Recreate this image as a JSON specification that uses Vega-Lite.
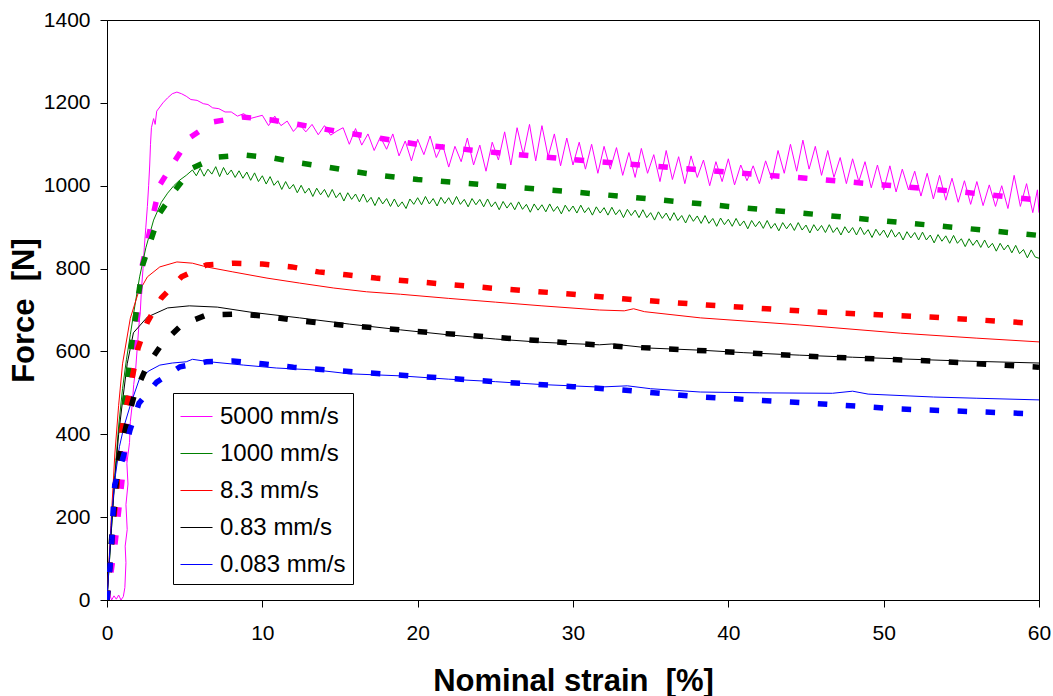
{
  "$schema": "https://vega.github.io/schema/vega-lite/v6.json",
  "width": 932,
  "height": 580,
  "autosize": {"type": "none"},
  "padding": {"left": 107, "top": 20, "right": 14, "bottom": 96},
  "background": "#ffffff",
  "config": {
    "font": "Liberation Sans",
    "view": {"stroke": "#000000", "strokeWidth": 1},
    "legend": {
      "orient": "none",
      "legendX": 66,
      "legendY": 373,
      "padding": 7,
      "strokeColor": "#000000",
      "fillColor": "#ffffff",
      "cornerRadius": 0,
      "symbolType": "stroke",
      "symbolSize": 1024,
      "symbolStrokeWidth": 1,
      "labelFont": "Liberation Sans",
      "labelFontSize": 24,
      "labelColor": "#000000",
      "labelOffset": 7,
      "rowPadding": 8,
      "titlePadding": 0
    }
  },
  "datasets": {
    "exp": [
      {"s": "5000 mm/s", "x": 0, "y": 0},
      {"s": "5000 mm/s", "x": 0.15, "y": 15},
      {"s": "5000 mm/s", "x": 0.3, "y": 0},
      {"s": "5000 mm/s", "x": 0.45, "y": 10},
      {"s": "5000 mm/s", "x": 0.6, "y": 2},
      {"s": "5000 mm/s", "x": 0.75, "y": 12},
      {"s": "5000 mm/s", "x": 0.9, "y": 0},
      {"s": "5000 mm/s", "x": 1.05, "y": 8},
      {"s": "5000 mm/s", "x": 1.15, "y": 30},
      {"s": "5000 mm/s", "x": 1.22, "y": 90},
      {"s": "5000 mm/s", "x": 1.17, "y": 130},
      {"s": "5000 mm/s", "x": 1.3, "y": 170},
      {"s": "5000 mm/s", "x": 1.22, "y": 230},
      {"s": "5000 mm/s", "x": 1.35, "y": 280},
      {"s": "5000 mm/s", "x": 1.28, "y": 330},
      {"s": "5000 mm/s", "x": 1.45, "y": 380},
      {"s": "5000 mm/s", "x": 1.5, "y": 430},
      {"s": "5000 mm/s", "x": 1.62, "y": 470},
      {"s": "5000 mm/s", "x": 1.72, "y": 520},
      {"s": "5000 mm/s", "x": 1.85, "y": 560},
      {"s": "5000 mm/s", "x": 1.95, "y": 610},
      {"s": "5000 mm/s", "x": 2.05, "y": 660},
      {"s": "5000 mm/s", "x": 2.15, "y": 700},
      {"s": "5000 mm/s", "x": 2.22, "y": 750},
      {"s": "5000 mm/s", "x": 2.32, "y": 800},
      {"s": "5000 mm/s", "x": 2.4, "y": 850},
      {"s": "5000 mm/s", "x": 2.5, "y": 900},
      {"s": "5000 mm/s", "x": 2.6, "y": 950},
      {"s": "5000 mm/s", "x": 2.68, "y": 1000},
      {"s": "5000 mm/s", "x": 2.75, "y": 1050},
      {"s": "5000 mm/s", "x": 2.8, "y": 1100},
      {"s": "5000 mm/s", "x": 2.86, "y": 1140},
      {"s": "5000 mm/s", "x": 3.0, "y": 1162},
      {"s": "5000 mm/s", "x": 3.1, "y": 1148},
      {"s": "5000 mm/s", "x": 3.2, "y": 1180},
      {"s": "5000 mm/s", "x": 3.4, "y": 1190},
      {"s": "5000 mm/s", "x": 3.6, "y": 1200},
      {"s": "5000 mm/s", "x": 3.9, "y": 1212},
      {"s": "5000 mm/s", "x": 4.2, "y": 1222},
      {"s": "5000 mm/s", "x": 4.5, "y": 1226},
      {"s": "5000 mm/s", "x": 4.8, "y": 1222},
      {"s": "5000 mm/s", "x": 5.1, "y": 1216},
      {"s": "5000 mm/s", "x": 5.4, "y": 1208},
      {"s": "5000 mm/s", "x": 5.8, "y": 1206},
      {"s": "5000 mm/s", "x": 6.2, "y": 1198},
      {"s": "5000 mm/s", "x": 6.5, "y": 1196},
      {"s": "5000 mm/s", "x": 6.8, "y": 1188},
      {"s": "5000 mm/s", "x": 7.2, "y": 1186},
      {"s": "5000 mm/s", "x": 7.6, "y": 1178},
      {"s": "5000 mm/s", "x": 8.0, "y": 1178},
      {"s": "5000 mm/s", "x": 8.4, "y": 1168},
      {"s": "5000 mm/s", "x": 8.8, "y": 1174},
      {"s": "5000 mm/s", "x": 9.2, "y": 1162},
      {"s": "5000 mm/s", "x": 9.6, "y": 1166},
      {"s": "5000 mm/s", "x": 10.0, "y": 1170},
      {"s": "5000 mm/s", "x": 10.4, "y": 1145},
      {"s": "5000 mm/s", "x": 10.8, "y": 1168},
      {"s": "5000 mm/s", "x": 11.2, "y": 1145},
      {"s": "5000 mm/s", "x": 11.6, "y": 1156},
      {"s": "5000 mm/s", "x": 12.0, "y": 1131},
      {"s": "5000 mm/s", "x": 12.4, "y": 1148},
      {"s": "5000 mm/s", "x": 12.8, "y": 1130},
      {"s": "5000 mm/s", "x": 13.2, "y": 1148},
      {"s": "5000 mm/s", "x": 13.6, "y": 1123},
      {"s": "5000 mm/s", "x": 14.0, "y": 1145},
      {"s": "5000 mm/s", "x": 14.4, "y": 1122},
      {"s": "5000 mm/s", "x": 14.8, "y": 1132},
      {"s": "5000 mm/s", "x": 15.2, "y": 1140},
      {"s": "5000 mm/s", "x": 15.6, "y": 1100},
      {"s": "5000 mm/s", "x": 16.0, "y": 1138},
      {"s": "5000 mm/s", "x": 16.4, "y": 1098},
      {"s": "5000 mm/s", "x": 16.8, "y": 1125},
      {"s": "5000 mm/s", "x": 17.2, "y": 1085},
      {"s": "5000 mm/s", "x": 17.6, "y": 1118},
      {"s": "5000 mm/s", "x": 18.0, "y": 1088},
      {"s": "5000 mm/s", "x": 18.4, "y": 1125},
      {"s": "5000 mm/s", "x": 18.8, "y": 1072},
      {"s": "5000 mm/s", "x": 19.2, "y": 1108},
      {"s": "5000 mm/s", "x": 19.6, "y": 1060},
      {"s": "5000 mm/s", "x": 20.0, "y": 1112},
      {"s": "5000 mm/s", "x": 20.4, "y": 1075},
      {"s": "5000 mm/s", "x": 20.8, "y": 1120},
      {"s": "5000 mm/s", "x": 21.2, "y": 1068},
      {"s": "5000 mm/s", "x": 21.6, "y": 1100},
      {"s": "5000 mm/s", "x": 22.0, "y": 1045},
      {"s": "5000 mm/s", "x": 22.4, "y": 1095},
      {"s": "5000 mm/s", "x": 22.8, "y": 1058},
      {"s": "5000 mm/s", "x": 23.2, "y": 1115},
      {"s": "5000 mm/s", "x": 23.6, "y": 1050},
      {"s": "5000 mm/s", "x": 24.0, "y": 1098},
      {"s": "5000 mm/s", "x": 24.4, "y": 1035},
      {"s": "5000 mm/s", "x": 24.8, "y": 1105},
      {"s": "5000 mm/s", "x": 25.2, "y": 1062},
      {"s": "5000 mm/s", "x": 25.6, "y": 1130},
      {"s": "5000 mm/s", "x": 26.0, "y": 1050},
      {"s": "5000 mm/s", "x": 26.4, "y": 1140},
      {"s": "5000 mm/s", "x": 26.8, "y": 1075},
      {"s": "5000 mm/s", "x": 27.2, "y": 1148},
      {"s": "5000 mm/s", "x": 27.6, "y": 1060},
      {"s": "5000 mm/s", "x": 28.0, "y": 1145},
      {"s": "5000 mm/s", "x": 28.4, "y": 1070},
      {"s": "5000 mm/s", "x": 28.8, "y": 1125},
      {"s": "5000 mm/s", "x": 29.2, "y": 1048},
      {"s": "5000 mm/s", "x": 29.6, "y": 1115},
      {"s": "5000 mm/s", "x": 30.0, "y": 1050},
      {"s": "5000 mm/s", "x": 30.4, "y": 1105},
      {"s": "5000 mm/s", "x": 30.8, "y": 1040},
      {"s": "5000 mm/s", "x": 31.2, "y": 1100},
      {"s": "5000 mm/s", "x": 31.6, "y": 1030},
      {"s": "5000 mm/s", "x": 32.0, "y": 1095},
      {"s": "5000 mm/s", "x": 32.4, "y": 1040},
      {"s": "5000 mm/s", "x": 32.8, "y": 1092},
      {"s": "5000 mm/s", "x": 33.2, "y": 1025},
      {"s": "5000 mm/s", "x": 33.6, "y": 1080},
      {"s": "5000 mm/s", "x": 34.0, "y": 1020},
      {"s": "5000 mm/s", "x": 34.4, "y": 1090},
      {"s": "5000 mm/s", "x": 34.8, "y": 1030},
      {"s": "5000 mm/s", "x": 35.2, "y": 1075},
      {"s": "5000 mm/s", "x": 35.6, "y": 1010},
      {"s": "5000 mm/s", "x": 36.0, "y": 1085},
      {"s": "5000 mm/s", "x": 36.4, "y": 1015},
      {"s": "5000 mm/s", "x": 36.8, "y": 1070},
      {"s": "5000 mm/s", "x": 37.2, "y": 1005},
      {"s": "5000 mm/s", "x": 37.6, "y": 1072},
      {"s": "5000 mm/s", "x": 38.0, "y": 1020},
      {"s": "5000 mm/s", "x": 38.4, "y": 1062},
      {"s": "5000 mm/s", "x": 38.8, "y": 1000},
      {"s": "5000 mm/s", "x": 39.2, "y": 1058},
      {"s": "5000 mm/s", "x": 39.6, "y": 1010},
      {"s": "5000 mm/s", "x": 40.0, "y": 1065},
      {"s": "5000 mm/s", "x": 40.4, "y": 1002},
      {"s": "5000 mm/s", "x": 40.8, "y": 1050},
      {"s": "5000 mm/s", "x": 41.2, "y": 1012},
      {"s": "5000 mm/s", "x": 41.6, "y": 1048},
      {"s": "5000 mm/s", "x": 42.0, "y": 1005},
      {"s": "5000 mm/s", "x": 42.4, "y": 1060},
      {"s": "5000 mm/s", "x": 42.8, "y": 1015},
      {"s": "5000 mm/s", "x": 43.2, "y": 1085},
      {"s": "5000 mm/s", "x": 43.6, "y": 1030},
      {"s": "5000 mm/s", "x": 44.0, "y": 1100},
      {"s": "5000 mm/s", "x": 44.4, "y": 1035},
      {"s": "5000 mm/s", "x": 44.8, "y": 1110},
      {"s": "5000 mm/s", "x": 45.2, "y": 1040},
      {"s": "5000 mm/s", "x": 45.6, "y": 1095},
      {"s": "5000 mm/s", "x": 46.0, "y": 1025},
      {"s": "5000 mm/s", "x": 46.4, "y": 1085},
      {"s": "5000 mm/s", "x": 46.8, "y": 1020},
      {"s": "5000 mm/s", "x": 47.2, "y": 1068},
      {"s": "5000 mm/s", "x": 47.6, "y": 1005},
      {"s": "5000 mm/s", "x": 48.0, "y": 1065},
      {"s": "5000 mm/s", "x": 48.4, "y": 1010},
      {"s": "5000 mm/s", "x": 48.8, "y": 1058},
      {"s": "5000 mm/s", "x": 49.2, "y": 995},
      {"s": "5000 mm/s", "x": 49.6, "y": 1050},
      {"s": "5000 mm/s", "x": 50.0, "y": 990},
      {"s": "5000 mm/s", "x": 50.4, "y": 1048},
      {"s": "5000 mm/s", "x": 50.8, "y": 985},
      {"s": "5000 mm/s", "x": 51.2, "y": 1040},
      {"s": "5000 mm/s", "x": 51.6, "y": 990},
      {"s": "5000 mm/s", "x": 52.0, "y": 1035},
      {"s": "5000 mm/s", "x": 52.4, "y": 975},
      {"s": "5000 mm/s", "x": 52.8, "y": 1030},
      {"s": "5000 mm/s", "x": 53.2, "y": 968},
      {"s": "5000 mm/s", "x": 53.6, "y": 1025},
      {"s": "5000 mm/s", "x": 54.0, "y": 965},
      {"s": "5000 mm/s", "x": 54.4, "y": 1018},
      {"s": "5000 mm/s", "x": 54.8, "y": 960},
      {"s": "5000 mm/s", "x": 55.2, "y": 1012},
      {"s": "5000 mm/s", "x": 55.6, "y": 955},
      {"s": "5000 mm/s", "x": 56.0, "y": 1010},
      {"s": "5000 mm/s", "x": 56.4, "y": 952},
      {"s": "5000 mm/s", "x": 56.8, "y": 1002},
      {"s": "5000 mm/s", "x": 57.2, "y": 950},
      {"s": "5000 mm/s", "x": 57.6, "y": 1000},
      {"s": "5000 mm/s", "x": 58.0, "y": 945},
      {"s": "5000 mm/s", "x": 58.4, "y": 1025},
      {"s": "5000 mm/s", "x": 58.8, "y": 950},
      {"s": "5000 mm/s", "x": 59.2, "y": 1005},
      {"s": "5000 mm/s", "x": 59.6, "y": 935},
      {"s": "5000 mm/s", "x": 59.9, "y": 990},
      {"s": "5000 mm/s", "x": 60.0, "y": 935},

      {"s": "1000 mm/s", "x": 0, "y": 0},
      {"s": "1000 mm/s", "x": 0.25, "y": 150},
      {"s": "1000 mm/s", "x": 0.5, "y": 300},
      {"s": "1000 mm/s", "x": 0.75, "y": 420},
      {"s": "1000 mm/s", "x": 1.0, "y": 510},
      {"s": "1000 mm/s", "x": 1.25, "y": 580},
      {"s": "1000 mm/s", "x": 1.5, "y": 640},
      {"s": "1000 mm/s", "x": 1.75, "y": 700},
      {"s": "1000 mm/s", "x": 2.1, "y": 780},
      {"s": "1000 mm/s", "x": 2.5, "y": 850},
      {"s": "1000 mm/s", "x": 3.0, "y": 917},
      {"s": "1000 mm/s", "x": 3.5, "y": 960},
      {"s": "1000 mm/s", "x": 3.9, "y": 982},
      {"s": "1000 mm/s", "x": 4.3, "y": 1000},
      {"s": "1000 mm/s", "x": 4.7, "y": 1014},
      {"s": "1000 mm/s", "x": 5.1, "y": 1025},
      {"s": "1000 mm/s", "x": 5.5, "y": 1038},
      {"s": "1000 mm/s", "x": 5.75, "y": 1024},
      {"s": "1000 mm/s", "x": 6.0, "y": 1042},
      {"s": "1000 mm/s", "x": 6.25, "y": 1023},
      {"s": "1000 mm/s", "x": 6.5, "y": 1040},
      {"s": "1000 mm/s", "x": 6.75, "y": 1028},
      {"s": "1000 mm/s", "x": 7.0, "y": 1046},
      {"s": "1000 mm/s", "x": 7.25, "y": 1022},
      {"s": "1000 mm/s", "x": 7.5, "y": 1044},
      {"s": "1000 mm/s", "x": 7.75, "y": 1026},
      {"s": "1000 mm/s", "x": 8.0, "y": 1038},
      {"s": "1000 mm/s", "x": 8.25, "y": 1020},
      {"s": "1000 mm/s", "x": 8.5, "y": 1036},
      {"s": "1000 mm/s", "x": 8.75, "y": 1018},
      {"s": "1000 mm/s", "x": 9.0, "y": 1033},
      {"s": "1000 mm/s", "x": 9.25, "y": 1013},
      {"s": "1000 mm/s", "x": 9.5, "y": 1031},
      {"s": "1000 mm/s", "x": 9.75, "y": 1010},
      {"s": "1000 mm/s", "x": 10.0, "y": 1024},
      {"s": "1000 mm/s", "x": 10.25, "y": 1004},
      {"s": "1000 mm/s", "x": 10.5, "y": 1022},
      {"s": "1000 mm/s", "x": 10.75, "y": 1001},
      {"s": "1000 mm/s", "x": 11.0, "y": 1012},
      {"s": "1000 mm/s", "x": 11.25, "y": 991},
      {"s": "1000 mm/s", "x": 11.5, "y": 1010},
      {"s": "1000 mm/s", "x": 11.75, "y": 992},
      {"s": "1000 mm/s", "x": 12.0, "y": 1003},
      {"s": "1000 mm/s", "x": 12.25, "y": 983},
      {"s": "1000 mm/s", "x": 12.5, "y": 1001},
      {"s": "1000 mm/s", "x": 12.75, "y": 982},
      {"s": "1000 mm/s", "x": 13.0, "y": 994},
      {"s": "1000 mm/s", "x": 13.25, "y": 974},
      {"s": "1000 mm/s", "x": 13.5, "y": 994},
      {"s": "1000 mm/s", "x": 13.75, "y": 978},
      {"s": "1000 mm/s", "x": 14.0, "y": 991},
      {"s": "1000 mm/s", "x": 14.25, "y": 972},
      {"s": "1000 mm/s", "x": 14.5, "y": 991},
      {"s": "1000 mm/s", "x": 14.75, "y": 971},
      {"s": "1000 mm/s", "x": 15.0, "y": 983},
      {"s": "1000 mm/s", "x": 15.25, "y": 963},
      {"s": "1000 mm/s", "x": 15.5, "y": 983},
      {"s": "1000 mm/s", "x": 15.75, "y": 967},
      {"s": "1000 mm/s", "x": 16.0, "y": 980},
      {"s": "1000 mm/s", "x": 16.25, "y": 961},
      {"s": "1000 mm/s", "x": 16.5, "y": 980},
      {"s": "1000 mm/s", "x": 16.75, "y": 960},
      {"s": "1000 mm/s", "x": 17.0, "y": 972},
      {"s": "1000 mm/s", "x": 17.25, "y": 952},
      {"s": "1000 mm/s", "x": 17.5, "y": 972},
      {"s": "1000 mm/s", "x": 17.75, "y": 956},
      {"s": "1000 mm/s", "x": 18.0, "y": 969},
      {"s": "1000 mm/s", "x": 18.25, "y": 950},
      {"s": "1000 mm/s", "x": 18.5, "y": 968},
      {"s": "1000 mm/s", "x": 18.75, "y": 949},
      {"s": "1000 mm/s", "x": 19.0, "y": 961},
      {"s": "1000 mm/s", "x": 19.25, "y": 945},
      {"s": "1000 mm/s", "x": 19.5, "y": 968},
      {"s": "1000 mm/s", "x": 19.75, "y": 955},
      {"s": "1000 mm/s", "x": 20.0, "y": 971},
      {"s": "1000 mm/s", "x": 20.25, "y": 954},
      {"s": "1000 mm/s", "x": 20.5, "y": 974},
      {"s": "1000 mm/s", "x": 20.75, "y": 956},
      {"s": "1000 mm/s", "x": 21.0, "y": 969},
      {"s": "1000 mm/s", "x": 21.25, "y": 951},
      {"s": "1000 mm/s", "x": 21.5, "y": 972},
      {"s": "1000 mm/s", "x": 21.75, "y": 957},
      {"s": "1000 mm/s", "x": 22.0, "y": 971},
      {"s": "1000 mm/s", "x": 22.25, "y": 954},
      {"s": "1000 mm/s", "x": 22.5, "y": 974},
      {"s": "1000 mm/s", "x": 22.75, "y": 955},
      {"s": "1000 mm/s", "x": 23.0, "y": 967},
      {"s": "1000 mm/s", "x": 23.25, "y": 949},
      {"s": "1000 mm/s", "x": 23.5, "y": 969},
      {"s": "1000 mm/s", "x": 23.75, "y": 954},
      {"s": "1000 mm/s", "x": 24.0, "y": 967},
      {"s": "1000 mm/s", "x": 24.25, "y": 949},
      {"s": "1000 mm/s", "x": 24.5, "y": 968},
      {"s": "1000 mm/s", "x": 24.75, "y": 949},
      {"s": "1000 mm/s", "x": 25.0, "y": 961},
      {"s": "1000 mm/s", "x": 25.25, "y": 942},
      {"s": "1000 mm/s", "x": 25.5, "y": 962},
      {"s": "1000 mm/s", "x": 25.75, "y": 946},
      {"s": "1000 mm/s", "x": 26.0, "y": 959},
      {"s": "1000 mm/s", "x": 26.25, "y": 942},
      {"s": "1000 mm/s", "x": 26.5, "y": 961},
      {"s": "1000 mm/s", "x": 26.75, "y": 943},
      {"s": "1000 mm/s", "x": 27.0, "y": 955},
      {"s": "1000 mm/s", "x": 27.25, "y": 936},
      {"s": "1000 mm/s", "x": 27.5, "y": 956},
      {"s": "1000 mm/s", "x": 27.75, "y": 941},
      {"s": "1000 mm/s", "x": 28.0, "y": 954},
      {"s": "1000 mm/s", "x": 28.25, "y": 937},
      {"s": "1000 mm/s", "x": 28.5, "y": 956},
      {"s": "1000 mm/s", "x": 28.75, "y": 938},
      {"s": "1000 mm/s", "x": 29.0, "y": 950},
      {"s": "1000 mm/s", "x": 29.25, "y": 932},
      {"s": "1000 mm/s", "x": 29.5, "y": 953},
      {"s": "1000 mm/s", "x": 29.75, "y": 938},
      {"s": "1000 mm/s", "x": 30.0, "y": 951},
      {"s": "1000 mm/s", "x": 30.25, "y": 934},
      {"s": "1000 mm/s", "x": 30.5, "y": 953},
      {"s": "1000 mm/s", "x": 30.75, "y": 935},
      {"s": "1000 mm/s", "x": 31.0, "y": 947},
      {"s": "1000 mm/s", "x": 31.25, "y": 929},
      {"s": "1000 mm/s", "x": 31.5, "y": 949},
      {"s": "1000 mm/s", "x": 31.75, "y": 934},
      {"s": "1000 mm/s", "x": 32.0, "y": 947},
      {"s": "1000 mm/s", "x": 32.25, "y": 929},
      {"s": "1000 mm/s", "x": 32.5, "y": 948},
      {"s": "1000 mm/s", "x": 32.75, "y": 930},
      {"s": "1000 mm/s", "x": 33.0, "y": 942},
      {"s": "1000 mm/s", "x": 33.25, "y": 923},
      {"s": "1000 mm/s", "x": 33.5, "y": 943},
      {"s": "1000 mm/s", "x": 33.75, "y": 928},
      {"s": "1000 mm/s", "x": 34.0, "y": 941},
      {"s": "1000 mm/s", "x": 34.25, "y": 923},
      {"s": "1000 mm/s", "x": 34.5, "y": 942},
      {"s": "1000 mm/s", "x": 34.75, "y": 923},
      {"s": "1000 mm/s", "x": 35.0, "y": 935},
      {"s": "1000 mm/s", "x": 35.25, "y": 917},
      {"s": "1000 mm/s", "x": 35.5, "y": 937},
      {"s": "1000 mm/s", "x": 35.75, "y": 921},
      {"s": "1000 mm/s", "x": 36.0, "y": 934},
      {"s": "1000 mm/s", "x": 36.25, "y": 916},
      {"s": "1000 mm/s", "x": 36.5, "y": 935},
      {"s": "1000 mm/s", "x": 36.75, "y": 916},
      {"s": "1000 mm/s", "x": 37.0, "y": 928},
      {"s": "1000 mm/s", "x": 37.25, "y": 910},
      {"s": "1000 mm/s", "x": 37.5, "y": 930},
      {"s": "1000 mm/s", "x": 37.75, "y": 914},
      {"s": "1000 mm/s", "x": 38.0, "y": 927},
      {"s": "1000 mm/s", "x": 38.25, "y": 909},
      {"s": "1000 mm/s", "x": 38.5, "y": 928},
      {"s": "1000 mm/s", "x": 38.75, "y": 909},
      {"s": "1000 mm/s", "x": 39.0, "y": 921},
      {"s": "1000 mm/s", "x": 39.25, "y": 902},
      {"s": "1000 mm/s", "x": 39.5, "y": 922},
      {"s": "1000 mm/s", "x": 39.75, "y": 906},
      {"s": "1000 mm/s", "x": 40.0, "y": 919},
      {"s": "1000 mm/s", "x": 40.25, "y": 902},
      {"s": "1000 mm/s", "x": 40.5, "y": 921},
      {"s": "1000 mm/s", "x": 40.75, "y": 903},
      {"s": "1000 mm/s", "x": 41.0, "y": 915},
      {"s": "1000 mm/s", "x": 41.25, "y": 896},
      {"s": "1000 mm/s", "x": 41.5, "y": 916},
      {"s": "1000 mm/s", "x": 41.75, "y": 901},
      {"s": "1000 mm/s", "x": 42.0, "y": 914},
      {"s": "1000 mm/s", "x": 42.25, "y": 897},
      {"s": "1000 mm/s", "x": 42.5, "y": 916},
      {"s": "1000 mm/s", "x": 42.75, "y": 897},
      {"s": "1000 mm/s", "x": 43.0, "y": 909},
      {"s": "1000 mm/s", "x": 43.25, "y": 891},
      {"s": "1000 mm/s", "x": 43.5, "y": 911},
      {"s": "1000 mm/s", "x": 43.75, "y": 896},
      {"s": "1000 mm/s", "x": 44.0, "y": 909},
      {"s": "1000 mm/s", "x": 44.25, "y": 892},
      {"s": "1000 mm/s", "x": 44.5, "y": 911},
      {"s": "1000 mm/s", "x": 44.75, "y": 893},
      {"s": "1000 mm/s", "x": 45.0, "y": 905},
      {"s": "1000 mm/s", "x": 45.25, "y": 886},
      {"s": "1000 mm/s", "x": 45.5, "y": 906},
      {"s": "1000 mm/s", "x": 45.75, "y": 891},
      {"s": "1000 mm/s", "x": 46.0, "y": 904},
      {"s": "1000 mm/s", "x": 46.25, "y": 887},
      {"s": "1000 mm/s", "x": 46.5, "y": 906},
      {"s": "1000 mm/s", "x": 46.75, "y": 887},
      {"s": "1000 mm/s", "x": 47.0, "y": 899},
      {"s": "1000 mm/s", "x": 47.25, "y": 881},
      {"s": "1000 mm/s", "x": 47.5, "y": 901},
      {"s": "1000 mm/s", "x": 47.75, "y": 886},
      {"s": "1000 mm/s", "x": 48.0, "y": 899},
      {"s": "1000 mm/s", "x": 48.25, "y": 881},
      {"s": "1000 mm/s", "x": 48.5, "y": 900},
      {"s": "1000 mm/s", "x": 48.75, "y": 882},
      {"s": "1000 mm/s", "x": 49.0, "y": 894},
      {"s": "1000 mm/s", "x": 49.25, "y": 875},
      {"s": "1000 mm/s", "x": 49.5, "y": 895},
      {"s": "1000 mm/s", "x": 49.75, "y": 880},
      {"s": "1000 mm/s", "x": 50.0, "y": 893},
      {"s": "1000 mm/s", "x": 50.25, "y": 875},
      {"s": "1000 mm/s", "x": 50.5, "y": 894},
      {"s": "1000 mm/s", "x": 50.75, "y": 876},
      {"s": "1000 mm/s", "x": 51.0, "y": 888},
      {"s": "1000 mm/s", "x": 51.25, "y": 869},
      {"s": "1000 mm/s", "x": 51.5, "y": 889},
      {"s": "1000 mm/s", "x": 51.75, "y": 874},
      {"s": "1000 mm/s", "x": 52.0, "y": 887},
      {"s": "1000 mm/s", "x": 52.25, "y": 869},
      {"s": "1000 mm/s", "x": 52.5, "y": 888},
      {"s": "1000 mm/s", "x": 52.75, "y": 869},
      {"s": "1000 mm/s", "x": 53.0, "y": 881},
      {"s": "1000 mm/s", "x": 53.25, "y": 862},
      {"s": "1000 mm/s", "x": 53.5, "y": 882},
      {"s": "1000 mm/s", "x": 53.75, "y": 866},
      {"s": "1000 mm/s", "x": 54.0, "y": 879},
      {"s": "1000 mm/s", "x": 54.25, "y": 861},
      {"s": "1000 mm/s", "x": 54.5, "y": 880},
      {"s": "1000 mm/s", "x": 54.75, "y": 861},
      {"s": "1000 mm/s", "x": 55.0, "y": 872},
      {"s": "1000 mm/s", "x": 55.25, "y": 853},
      {"s": "1000 mm/s", "x": 55.5, "y": 872},
      {"s": "1000 mm/s", "x": 55.75, "y": 856},
      {"s": "1000 mm/s", "x": 56.0, "y": 869},
      {"s": "1000 mm/s", "x": 56.25, "y": 851},
      {"s": "1000 mm/s", "x": 56.5, "y": 869},
      {"s": "1000 mm/s", "x": 56.75, "y": 850},
      {"s": "1000 mm/s", "x": 57.0, "y": 861},
      {"s": "1000 mm/s", "x": 57.25, "y": 842},
      {"s": "1000 mm/s", "x": 57.5, "y": 861},
      {"s": "1000 mm/s", "x": 57.75, "y": 845},
      {"s": "1000 mm/s", "x": 58.0, "y": 857},
      {"s": "1000 mm/s", "x": 58.25, "y": 838},
      {"s": "1000 mm/s", "x": 58.5, "y": 856},
      {"s": "1000 mm/s", "x": 58.75, "y": 836},
      {"s": "1000 mm/s", "x": 59.0, "y": 846},
      {"s": "1000 mm/s", "x": 59.25, "y": 826},
      {"s": "1000 mm/s", "x": 59.5, "y": 845},
      {"s": "1000 mm/s", "x": 59.75, "y": 828},
      {"s": "1000 mm/s", "x": 60.0, "y": 825},

      {"s": "8.3 mm/s", "x": 0, "y": 0},
      {"s": "8.3 mm/s", "x": 0.25, "y": 180},
      {"s": "8.3 mm/s", "x": 0.5, "y": 350},
      {"s": "8.3 mm/s", "x": 0.75, "y": 470},
      {"s": "8.3 mm/s", "x": 1.0, "y": 570},
      {"s": "8.3 mm/s", "x": 1.5, "y": 680},
      {"s": "8.3 mm/s", "x": 2.0, "y": 740},
      {"s": "8.3 mm/s", "x": 2.6, "y": 780},
      {"s": "8.3 mm/s", "x": 3.4, "y": 804},
      {"s": "8.3 mm/s", "x": 4.5, "y": 816},
      {"s": "8.3 mm/s", "x": 5.5, "y": 813},
      {"s": "8.3 mm/s", "x": 6.4, "y": 804},
      {"s": "8.3 mm/s", "x": 8.1, "y": 792},
      {"s": "8.3 mm/s", "x": 10.3, "y": 777},
      {"s": "8.3 mm/s", "x": 12.4, "y": 765},
      {"s": "8.3 mm/s", "x": 14.6, "y": 753},
      {"s": "8.3 mm/s", "x": 16.7, "y": 744},
      {"s": "8.3 mm/s", "x": 18.9, "y": 738},
      {"s": "8.3 mm/s", "x": 22, "y": 728},
      {"s": "8.3 mm/s", "x": 25, "y": 719},
      {"s": "8.3 mm/s", "x": 28, "y": 710},
      {"s": "8.3 mm/s", "x": 31.7, "y": 700},
      {"s": "8.3 mm/s", "x": 33.3, "y": 698},
      {"s": "8.3 mm/s", "x": 33.9, "y": 703},
      {"s": "8.3 mm/s", "x": 34.6, "y": 696},
      {"s": "8.3 mm/s", "x": 38.2, "y": 681},
      {"s": "8.3 mm/s", "x": 44.6, "y": 664},
      {"s": "8.3 mm/s", "x": 51.1, "y": 644},
      {"s": "8.3 mm/s", "x": 56, "y": 632},
      {"s": "8.3 mm/s", "x": 60, "y": 623},

      {"s": "0.83 mm/s", "x": 0, "y": 0},
      {"s": "0.83 mm/s", "x": 0.25, "y": 150},
      {"s": "0.83 mm/s", "x": 0.5, "y": 290},
      {"s": "0.83 mm/s", "x": 0.75, "y": 400},
      {"s": "0.83 mm/s", "x": 1.0, "y": 480},
      {"s": "0.83 mm/s", "x": 1.3, "y": 570},
      {"s": "0.83 mm/s", "x": 1.7, "y": 645},
      {"s": "0.83 mm/s", "x": 2.6, "y": 683},
      {"s": "0.83 mm/s", "x": 3.9, "y": 705},
      {"s": "0.83 mm/s", "x": 5.3, "y": 710},
      {"s": "0.83 mm/s", "x": 7.1, "y": 707},
      {"s": "0.83 mm/s", "x": 9.2, "y": 695},
      {"s": "0.83 mm/s", "x": 12.4, "y": 681},
      {"s": "0.83 mm/s", "x": 15.6, "y": 666},
      {"s": "0.83 mm/s", "x": 18.9, "y": 652},
      {"s": "0.83 mm/s", "x": 22, "y": 640},
      {"s": "0.83 mm/s", "x": 25, "y": 630},
      {"s": "0.83 mm/s", "x": 28, "y": 622},
      {"s": "0.83 mm/s", "x": 31.7, "y": 616},
      {"s": "0.83 mm/s", "x": 32.5, "y": 618},
      {"s": "0.83 mm/s", "x": 35, "y": 608},
      {"s": "0.83 mm/s", "x": 38.2, "y": 603},
      {"s": "0.83 mm/s", "x": 41, "y": 597},
      {"s": "0.83 mm/s", "x": 44.6, "y": 591},
      {"s": "0.83 mm/s", "x": 48, "y": 586},
      {"s": "0.83 mm/s", "x": 51.1, "y": 582},
      {"s": "0.83 mm/s", "x": 55, "y": 577},
      {"s": "0.83 mm/s", "x": 60, "y": 572},

      {"s": "0.083 mm/s", "x": 0, "y": 0},
      {"s": "0.083 mm/s", "x": 0.15, "y": 100},
      {"s": "0.083 mm/s", "x": 0.3, "y": 200},
      {"s": "0.083 mm/s", "x": 0.5, "y": 290},
      {"s": "0.083 mm/s", "x": 0.8, "y": 370},
      {"s": "0.083 mm/s", "x": 1.1, "y": 420},
      {"s": "0.083 mm/s", "x": 1.5, "y": 470},
      {"s": "0.083 mm/s", "x": 2.1, "y": 535},
      {"s": "0.083 mm/s", "x": 2.7, "y": 553},
      {"s": "0.083 mm/s", "x": 3.4, "y": 567},
      {"s": "0.083 mm/s", "x": 4.2, "y": 572},
      {"s": "0.083 mm/s", "x": 5.1, "y": 575},
      {"s": "0.083 mm/s", "x": 5.5, "y": 581},
      {"s": "0.083 mm/s", "x": 6.6, "y": 575},
      {"s": "0.083 mm/s", "x": 8.8, "y": 567},
      {"s": "0.083 mm/s", "x": 10.9, "y": 560},
      {"s": "0.083 mm/s", "x": 13.5, "y": 555},
      {"s": "0.083 mm/s", "x": 15.6, "y": 546},
      {"s": "0.083 mm/s", "x": 18.9, "y": 541},
      {"s": "0.083 mm/s", "x": 22, "y": 533},
      {"s": "0.083 mm/s", "x": 25, "y": 527},
      {"s": "0.083 mm/s", "x": 28, "y": 520},
      {"s": "0.083 mm/s", "x": 31.7, "y": 514},
      {"s": "0.083 mm/s", "x": 33.5, "y": 517},
      {"s": "0.083 mm/s", "x": 35, "y": 510},
      {"s": "0.083 mm/s", "x": 38.2, "y": 502},
      {"s": "0.083 mm/s", "x": 42, "y": 500},
      {"s": "0.083 mm/s", "x": 46.7, "y": 499},
      {"s": "0.083 mm/s", "x": 48, "y": 504},
      {"s": "0.083 mm/s", "x": 49, "y": 497},
      {"s": "0.083 mm/s", "x": 53.2, "y": 490},
      {"s": "0.083 mm/s", "x": 56, "y": 487},
      {"s": "0.083 mm/s", "x": 60, "y": 483}
    ],
    "sim": [
      {"s": "5000 mm/s", "x": 0, "y": 0},
      {"s": "5000 mm/s", "x": 0.5, "y": 130},
      {"s": "5000 mm/s", "x": 1.0, "y": 300},
      {"s": "5000 mm/s", "x": 1.6, "y": 543},
      {"s": "5000 mm/s", "x": 2.25, "y": 804},
      {"s": "5000 mm/s", "x": 3.0, "y": 934},
      {"s": "5000 mm/s", "x": 3.4, "y": 1002},
      {"s": "5000 mm/s", "x": 4.4, "y": 1062},
      {"s": "5000 mm/s", "x": 5.3, "y": 1115},
      {"s": "5000 mm/s", "x": 6.8, "y": 1154},
      {"s": "5000 mm/s", "x": 8.7, "y": 1166},
      {"s": "5000 mm/s", "x": 10.5, "y": 1159},
      {"s": "5000 mm/s", "x": 12, "y": 1150},
      {"s": "5000 mm/s", "x": 15, "y": 1130},
      {"s": "5000 mm/s", "x": 20, "y": 1100},
      {"s": "5000 mm/s", "x": 25, "y": 1080},
      {"s": "5000 mm/s", "x": 30, "y": 1063},
      {"s": "5000 mm/s", "x": 35, "y": 1048},
      {"s": "5000 mm/s", "x": 40, "y": 1033},
      {"s": "5000 mm/s", "x": 45, "y": 1018},
      {"s": "5000 mm/s", "x": 50, "y": 1002},
      {"s": "5000 mm/s", "x": 55, "y": 985},
      {"s": "5000 mm/s", "x": 60, "y": 965},

      {"s": "1000 mm/s", "x": 0, "y": 0},
      {"s": "1000 mm/s", "x": 0.5, "y": 230},
      {"s": "1000 mm/s", "x": 1.0, "y": 430},
      {"s": "1000 mm/s", "x": 1.6, "y": 620},
      {"s": "1000 mm/s", "x": 2.3, "y": 809},
      {"s": "1000 mm/s", "x": 3.4, "y": 934},
      {"s": "1000 mm/s", "x": 4.4, "y": 990},
      {"s": "1000 mm/s", "x": 5.5, "y": 1043},
      {"s": "1000 mm/s", "x": 7.1, "y": 1069},
      {"s": "1000 mm/s", "x": 8.9, "y": 1074},
      {"s": "1000 mm/s", "x": 10.7, "y": 1067},
      {"s": "1000 mm/s", "x": 12.4, "y": 1055},
      {"s": "1000 mm/s", "x": 14.2, "y": 1045},
      {"s": "1000 mm/s", "x": 16.1, "y": 1033},
      {"s": "1000 mm/s", "x": 17.8, "y": 1024},
      {"s": "1000 mm/s", "x": 20, "y": 1015},
      {"s": "1000 mm/s", "x": 25, "y": 1000},
      {"s": "1000 mm/s", "x": 30, "y": 985},
      {"s": "1000 mm/s", "x": 35, "y": 968},
      {"s": "1000 mm/s", "x": 40, "y": 950},
      {"s": "1000 mm/s", "x": 45, "y": 933},
      {"s": "1000 mm/s", "x": 50, "y": 915},
      {"s": "1000 mm/s", "x": 55, "y": 898},
      {"s": "1000 mm/s", "x": 60, "y": 880},

      {"s": "8.3 mm/s", "x": 0, "y": 0},
      {"s": "8.3 mm/s", "x": 0.5, "y": 220},
      {"s": "8.3 mm/s", "x": 0.95, "y": 410},
      {"s": "8.3 mm/s", "x": 2.0, "y": 608},
      {"s": "8.3 mm/s", "x": 2.6, "y": 671},
      {"s": "8.3 mm/s", "x": 3.5, "y": 729},
      {"s": "8.3 mm/s", "x": 4.8, "y": 780},
      {"s": "8.3 mm/s", "x": 6.4, "y": 809},
      {"s": "8.3 mm/s", "x": 8.2, "y": 813},
      {"s": "8.3 mm/s", "x": 10, "y": 811},
      {"s": "8.3 mm/s", "x": 11.9, "y": 804},
      {"s": "8.3 mm/s", "x": 13.6, "y": 792},
      {"s": "8.3 mm/s", "x": 15.4, "y": 785},
      {"s": "8.3 mm/s", "x": 17.3, "y": 777},
      {"s": "8.3 mm/s", "x": 20, "y": 768},
      {"s": "8.3 mm/s", "x": 25, "y": 752},
      {"s": "8.3 mm/s", "x": 30, "y": 738},
      {"s": "8.3 mm/s", "x": 33.2, "y": 727},
      {"s": "8.3 mm/s", "x": 38.6, "y": 712},
      {"s": "8.3 mm/s", "x": 45.8, "y": 695},
      {"s": "8.3 mm/s", "x": 53, "y": 683},
      {"s": "8.3 mm/s", "x": 58.3, "y": 671},
      {"s": "8.3 mm/s", "x": 60, "y": 667},

      {"s": "0.83 mm/s", "x": 0, "y": 0},
      {"s": "0.83 mm/s", "x": 0.3, "y": 150},
      {"s": "0.83 mm/s", "x": 0.7, "y": 333},
      {"s": "0.83 mm/s", "x": 0.95, "y": 374},
      {"s": "0.83 mm/s", "x": 1.35, "y": 439},
      {"s": "0.83 mm/s", "x": 1.8, "y": 500},
      {"s": "0.83 mm/s", "x": 2.6, "y": 567},
      {"s": "0.83 mm/s", "x": 3.5, "y": 616},
      {"s": "0.83 mm/s", "x": 4.8, "y": 664},
      {"s": "0.83 mm/s", "x": 6.4, "y": 688},
      {"s": "0.83 mm/s", "x": 8.4, "y": 690},
      {"s": "0.83 mm/s", "x": 10, "y": 686},
      {"s": "0.83 mm/s", "x": 11.9, "y": 676},
      {"s": "0.83 mm/s", "x": 13.7, "y": 669},
      {"s": "0.83 mm/s", "x": 15.5, "y": 662},
      {"s": "0.83 mm/s", "x": 17.4, "y": 657},
      {"s": "0.83 mm/s", "x": 20, "y": 648},
      {"s": "0.83 mm/s", "x": 25, "y": 634},
      {"s": "0.83 mm/s", "x": 30, "y": 620},
      {"s": "0.83 mm/s", "x": 33.4, "y": 611},
      {"s": "0.83 mm/s", "x": 38.8, "y": 601},
      {"s": "0.83 mm/s", "x": 45.9, "y": 587},
      {"s": "0.83 mm/s", "x": 53, "y": 577},
      {"s": "0.83 mm/s", "x": 58.5, "y": 565},
      {"s": "0.83 mm/s", "x": 60, "y": 562},

      {"s": "0.083 mm/s", "x": 0, "y": 0},
      {"s": "0.083 mm/s", "x": 0.19, "y": 77},
      {"s": "0.083 mm/s", "x": 0.32, "y": 145},
      {"s": "0.083 mm/s", "x": 0.39, "y": 212},
      {"s": "0.083 mm/s", "x": 0.5, "y": 278},
      {"s": "0.083 mm/s", "x": 1.03, "y": 343},
      {"s": "0.083 mm/s", "x": 1.48, "y": 410},
      {"s": "0.083 mm/s", "x": 2.06, "y": 475},
      {"s": "0.083 mm/s", "x": 3.2, "y": 526},
      {"s": "0.083 mm/s", "x": 4.7, "y": 563},
      {"s": "0.083 mm/s", "x": 6.4, "y": 575},
      {"s": "0.083 mm/s", "x": 8.1, "y": 577},
      {"s": "0.083 mm/s", "x": 10, "y": 570},
      {"s": "0.083 mm/s", "x": 12, "y": 562},
      {"s": "0.083 mm/s", "x": 15, "y": 553},
      {"s": "0.083 mm/s", "x": 20, "y": 540},
      {"s": "0.083 mm/s", "x": 25, "y": 527},
      {"s": "0.083 mm/s", "x": 30, "y": 515},
      {"s": "0.083 mm/s", "x": 33.2, "y": 507},
      {"s": "0.083 mm/s", "x": 38.2, "y": 490},
      {"s": "0.083 mm/s", "x": 44, "y": 478},
      {"s": "0.083 mm/s", "x": 51.1, "y": 461},
      {"s": "0.083 mm/s", "x": 60, "y": 449}
    ]
  },
  "layer": [
    {
      "data": {"name": "exp"},
      "mark": {"type": "line", "strokeWidth": 1, "clip": true},
      "encoding": {
        "x": {
          "field": "x", "type": "quantitative",
          "scale": {"domain": [0, 60], "nice": false, "zero": false},
          "axis": {
            "values": [0, 10, 20, 30, 40, 50, 60],
            "grid": false,
            "tickSize": 7,
            "tickColor": "#000000",
            "domainColor": "#000000",
            "labelFont": "Liberation Sans",
            "labelFontSize": 21,
            "labelColor": "#000000",
            "labelPadding": 15,
            "labelFlush": false,
            "title": "Nominal strain \u00a0[%]",
            "titleFont": "Liberation Sans",
            "titleFontSize": 31,
            "titleFontWeight": "bold",
            "titleColor": "#000000",
            "titleY": 90,
            "titleBaseline": "alphabetic"
          }
        },
        "y": {
          "field": "y", "type": "quantitative",
          "scale": {"domain": [0, 1400], "nice": false},
          "axis": {
            "values": [0, 200, 400, 600, 800, 1000, 1200, 1400],
            "format": "d",
            "grid": false,
            "tickSize": 7,
            "tickColor": "#000000",
            "domainColor": "#000000",
            "labelFont": "Liberation Sans",
            "labelFontSize": 21,
            "labelColor": "#000000",
            "labelPadding": 10,
            "labelFlush": false,
            "title": "Force \u00a0[N]",
            "titleFont": "Liberation Sans",
            "titleFontSize": 31,
            "titleFontWeight": "bold",
            "titleColor": "#000000",
            "titleX": -74,
            "titleY": 290,
            "titleAngle": 270,
            "titleAlign": "center",
            "titleBaseline": "alphabetic"
          }
        },
        "color": {
          "field": "s", "type": "nominal",
          "scale": {
            "domain": ["5000 mm/s", "1000 mm/s", "8.3 mm/s", "0.83 mm/s", "0.083 mm/s"],
            "range": ["#FF00FF", "#008000", "#FF0000", "#000000", "#0000FF"]
          },
          "legend": {"title": null, "labelExpr": "datum.label + '\u00a0\u00a0\u00a0'"}
        },
        "order": {"value": null}
      }
    },
    {
      "data": {"name": "sim"},
      "mark": {"type": "line", "strokeWidth": 5.5, "strokeDash": [9.5, 18.5], "clip": true},
      "encoding": {
        "x": {"field": "x", "type": "quantitative"},
        "y": {"field": "y", "type": "quantitative"},
        "color": {
          "field": "s", "type": "nominal",
          "scale": {
            "domain": ["5000 mm/s", "1000 mm/s", "8.3 mm/s", "0.83 mm/s", "0.083 mm/s"],
            "range": ["#FF00FF", "#008000", "#FF0000", "#000000", "#0000FF"]
          },
          "legend": null
        }
      }
    }
  ],
  "resolve": {"scale": {"color": "independent"}}
}
